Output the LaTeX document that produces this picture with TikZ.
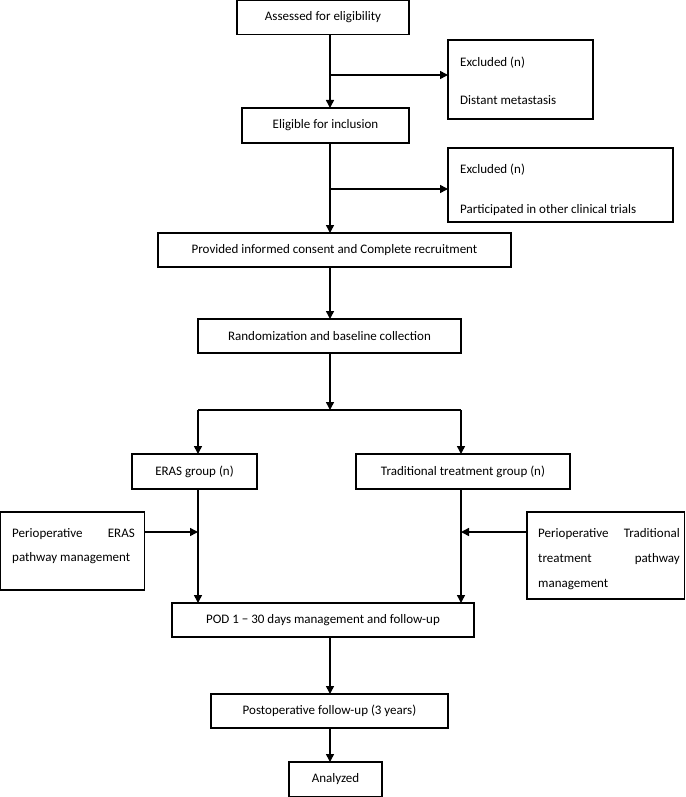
\documentclass[tikz,border=0pt]{standalone}
\usepackage{fontspec}
\setmainfont{Carlito}
\usetikzlibrary{arrows.meta}
\begin{document}
\begin{tikzpicture}[x=1pt,y=-1pt,
  box/.style={draw, line width=1.2pt, inner sep=0pt, outer sep=0pt, anchor=north west, font=\fontsize{13}{15}\selectfont},
  lbl/.style={font=\fontsize{13}{15}\selectfont, inner sep=0pt},
  arr/.style={line width=1.5pt, -{Triangle[length=8pt,width=8pt]}},
  ln/.style={line width=1.5pt}]
\useasboundingbox (0,0) rectangle (685,797);
% boxes
\node[box, minimum width=172pt, minimum height=33.5pt] (A) at (237,0.7) {Assessed for eligibility};
\node[box, minimum width=145pt, minimum height=79pt] (X1) at (448,40) {};
\node[box, minimum width=167pt, minimum height=35pt] (E) at (242,108) {Eligible for inclusion};
\node[box, minimum width=225pt, minimum height=74pt] (X2) at (448,148) {};
\node[box, minimum width=353pt, minimum height=34pt] (P) at (158,233) {Provided informed consent and Complete recruitment};
\node[box, minimum width=263pt, minimum height=34pt] (R) at (198,319) {Randomization and baseline collection};
\node[box, minimum width=125pt, minimum height=35pt] (G1) at (132,454) {ERAS group (n)};
\node[box, minimum width=214pt, minimum height=35pt] (G2) at (356,454) {Traditional treatment group (n)};
\node[box, minimum width=144pt, minimum height=78pt] (L) at (0.7,512) {};
\node[box, minimum width=157.3pt, minimum height=87pt] (Rt) at (527,512) {};
\node[box, minimum width=302pt, minimum height=34pt] (POD) at (172,603) {POD 1 − 30 days management and follow-up};
\node[box, minimum width=237pt, minimum height=34pt] (PF) at (211,694) {Postoperative follow-up (3 years)};
\node[box, minimum width=93pt, minimum height=34.3pt] (AN) at (289,762) {Analyzed};
% texts inside side boxes
\node[lbl, anchor=base west] (x1a) at (460,67) {Excluded (n)};
\node[lbl, anchor=base west] (x1b) at (460,105) {Distant metastasis};
\node[lbl, anchor=base west] (x2a) at (460,173) {Excluded (n)};
\node[lbl, anchor=base west] (x2b) at (460,213) {Participated in other clinical trials};
\node[lbl, anchor=base west] (l1a) at (12,537) {Perioperative};
\node[lbl, anchor=base east] (l1b) at (135,537) {ERAS};
\node[lbl, anchor=base west] (l2) at (12,561) {pathway management};
\node[lbl, anchor=base west] (r1a) at (538,537) {Perioperative};
\node[lbl, anchor=base east] (r1b) at (680,537) {Traditional};
\node[lbl, anchor=base west] (r2a) at (538,562) {treatment};
\node[lbl, anchor=base east] (r2b) at (680,562) {pathway};
\node[lbl, anchor=base west] (r3) at (538,587) {management};
% helper coordinates
\coordinate (spine) at (330,0);
\coordinate (b1) at (330,75);
\coordinate (b2) at (330,189);
\coordinate (j) at (330,410);
\coordinate (jl) at (198,410);
\coordinate (jr) at (461,410);
\coordinate (ya) at (0,532);
% connectors
\draw[arr] (A.south -| spine) -- (E.north -| spine);
\draw[arr] (b1) -- (b1 -| X1.west);
\draw[arr] (E.south -| spine) -- (P.north -| spine);
\draw[arr] (b2) -- (b2 -| X2.west);
\draw[arr] (P.south -| spine) -- (R.north -| spine);
\draw[arr] (R.south -| spine) -- (j);
\draw[ln] (jl) -- (jr);
\draw[arr] (jl) -- (jl |- G1.north);
\draw[arr] (jr) -- (jr |- G2.north);
\draw[arr] (jl |- G1.south) -- (jl |- POD.north);
\draw[arr] (jr |- G2.south) -- (jr |- POD.north);
\draw[arr] (L.east |- ya) -- (ya -| jl);
\draw[arr] (Rt.west |- ya) -- (ya -| jr);
\draw[arr] (POD.south -| spine) -- (PF.north -| spine);
\draw[arr] (PF.south -| spine) -- (AN.north -| spine);
\end{tikzpicture}
\end{document}
